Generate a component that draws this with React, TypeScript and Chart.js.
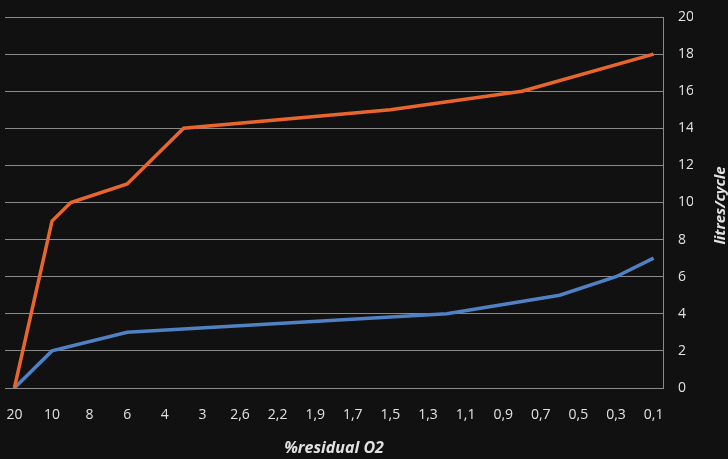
import React, { useEffect, useRef } from "react";
import { Chart, registerables } from "chart.js";

Chart.register(...registerables);

const categories = [
  "20", "15", "10", "9", "8", "7", "6", "5", "4", "3,5", "3", "2,8", "2,6", "2,4", "2,2", "2", "1,9", "1,8",
  "1,7", "1,6", "1,5", "1,4", "1,3", "1,2", "1,1", "1", "0,9", "0,8", "0,7", "0,6", "0,5", "0,4", "0,3", "0,2", "0,1",
];

// values only at measured vertices; null = no point (line spans straight)
const orangeSeries: (number | null)[] = [
  0, null, 9, 10, null, null, 11, null, null, 14, null, null, null, null, null, null, null, null,
  null, null, 15, null, null, null, null, null, null, 16, null, null, null, null, null, null, 18,
];
const blueSeries: (number | null)[] = [
  0, null, 2, null, null, null, 3, null, null, null, null, null, null, null, null, null, null, null,
  null, null, null, null, null, 4, null, null, null, null, null, 5, null, null, 6, null, 7,
];

const yTicks = { min: 0, max: 20, step: 2 };
const xTitle = "%residual O2";
const yTitle = "litres/cycle";

const textColor = "#e2e2e2";
const titleFont = "italic bold 15px 'Open Sans'";

const yTitlePlugin = {
  id: "yTitleUp",
  afterDraw(chart: any) {
    const { ctx, chartArea } = chart;
    ctx.save();
    ctx.fillStyle = textColor;
    ctx.font = titleFont;
    ctx.textAlign = "center";
    ctx.textBaseline = "middle";
    ctx.translate(721, (chartArea.top + chartArea.bottom) / 2 + 3);
    ctx.rotate(-Math.PI / 2);
    ctx.fillText(yTitle, 0, 0);
    ctx.restore();
  },
};

export default function App() {
  const ref = useRef<HTMLCanvasElement | null>(null);
  useEffect(() => {
    document.body.style.margin = "0";
    document.body.style.background = "#111111";
    if (!ref.current) return;
    const chart = new Chart(ref.current, {
      type: "line",
      data: {
        labels: categories,
        datasets: [
          {
            label: "orange",
            data: orangeSeries,
            borderColor: "#E8652C",
            borderWidth: 3.5,
            pointRadius: 0,
            spanGaps: true,
            tension: 0,
          },
          {
            label: "blue",
            data: blueSeries,
            borderColor: "#4F81C4",
            borderWidth: 3.5,
            pointRadius: 0,
            spanGaps: true,
            tension: 0,
          },
        ],
      },
      plugins: [yTitlePlugin],
      options: {
        animation: false,
        responsive: false,
        maintainAspectRatio: false,
        layout: { padding: { top: 17, left: 5, right: 35, bottom: 1 } },
        plugins: { legend: { display: false }, tooltip: { enabled: false } },
        scales: {
          x: {
            offset: true,
            grid: { display: false, drawTicks: false },
            border: { display: false },
            afterFit: (scale: any) => {
              scale.paddingLeft = 0;
              scale.paddingRight = 0;
              scale.height = 70;
            },
            ticks: {
              autoSkip: false,
              maxRotation: 0,
              minRotation: 0,
              color: textColor,
              padding: 19,
              font: { family: "Open Sans", size: 14 },
              callback: (_v: any, i: number) => (i % 2 === 0 ? categories[i] : ""),
            },
            title: {
              display: true,
              text: xTitle,
              color: textColor,
              font: { family: "Open Sans", size: 16, weight: "bold", style: "italic" },
              padding: { top: 14, bottom: 0 },
            },
          },
          y: {
            position: "right",
            min: yTicks.min,
            max: yTicks.max,
            grid: { color: "#8a8a8a", lineWidth: 1, drawTicks: false },
            border: { display: true, color: "#8a8a8a" },
            afterFit: (scale: any) => {
              scale.paddingTop = 0;
              scale.paddingBottom = 0;
              scale.width = 30;
            },
            ticks: {
              stepSize: yTicks.step,
              color: textColor,
              padding: 15,
              font: { family: "Open Sans", size: 14 },
            },
            title: { display: false },
          },
        },
      },
    });
    return () => chart.destroy();
  }, []);
  return (
    <div style={{ width: 728, height: 459, background: "#111111" }}>
      <canvas ref={ref} width={728} height={459} style={{ display: "block" }} />
    </div>
  );
}
